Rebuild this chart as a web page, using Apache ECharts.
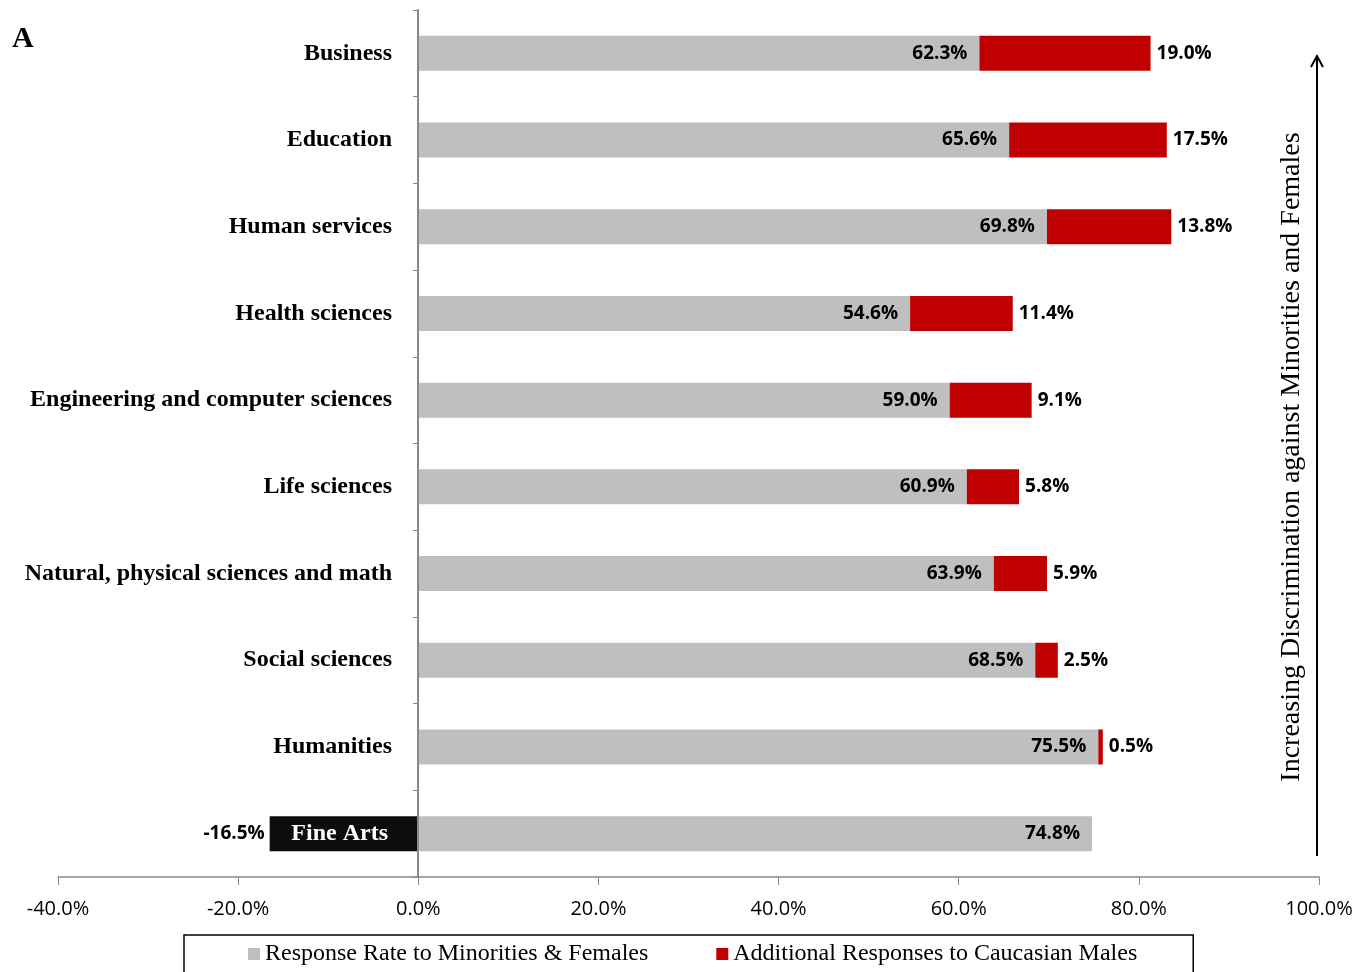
<!DOCTYPE html>
<html>
<head>
    <meta charset="utf-8">
    <script src="https://cdn.jsdelivr.net/npm/echarts@6/dist/echarts.min.js"></script>
</head>
<body style="margin:0">
<div id="main" style="width: 1358px;height:972px;"></div>
<script type="text/javascript">
    // data
    var fields = ['Business', 'Education', 'Human services', 'Health sciences',
        'Engineering and computer sciences', 'Life sciences',
        'Natural, physical sciences and math', 'Social sciences', 'Humanities', 'Fine Arts'];
    var minorityRate = [62.3, 65.6, 69.8, 54.6, 59.0, 60.9, 63.9, 68.5, 75.5, 74.8];
    var extraMales = [19.0, 17.5, 13.8, 11.4, 9.1, 5.8, 5.9, 2.5, 0.5, '-'];
    var negativeGap = ['-', '-', '-', '-', '-', '-', '-', '-', '-', -16.5];

    var serif = 'Liberation Serif';
    var sans = 'Open Sans';

    function pct(p) {
        return p.value.toFixed(1) + '%';
    }

    var myChart = echarts.init(document.getElementById('main'));

    var option = {
        animation: false,
        grid: {left: 58, right: 39, top: 10, bottom: 95, containLabel: false, outerBoundsMode: 'none'},
        xAxis: {
            type: 'value',
            min: -40,
            max: 100,
            interval: 20,
            axisLine: {show: true, lineStyle: {color: '#888', width: 1.5}},
            axisTick: {show: true, length: 8, lineStyle: {color: '#888'}},
            splitLine: {show: false},
            axisLabel: {
                margin: 22,
                fontFamily: sans,
                fontSize: 20,
                color: '#000',
                formatter: function (v) { return v.toFixed(1) + '%'; }
            }
        },
        yAxis: {
            type: 'category',
            inverse: true,
            data: fields,
            position: 'left',
            offset: -360, // put the category axis on the 0% line
            z: 10,
            axisLine: {show: true, onZero: false, lineStyle: {color: '#888', width: 2}},
            axisTick: {show: true, length: 5, lineStyle: {color: '#888'}},
            axisLabel: {
                margin: 26,
                fontFamily: serif,
                fontWeight: 'bold',
                fontSize: 24,
                color: '#000',
                formatter: function (v) {
                    return v === 'Fine Arts' ? '{w|' + v + '}' : v;
                },
                rich: {
                    w: {color: '#fff', fontFamily: serif, fontWeight: 'bold', fontSize: 24, padding: [0, 4, 0, 0]}
                }
            }
        },
        legend: {
            data: ['Response Rate to Minorities & Females', 'Additional Responses to Caucasian Males'],
            top: 935,
            left: 184,
            icon: 'rect',
            itemWidth: 12,
            itemHeight: 12,
            itemGap: 68,
            borderColor: '#000',
            borderWidth: 1.5,
            padding: [7, 56, 14, 64],
            textStyle: {fontFamily: serif, fontSize: 24, color: '#000'}
        },
        series: [
            {
                name: 'Response Rate to Minorities & Females',
                type: 'bar',
                stack: 'a',
                barWidth: 35,
                itemStyle: {color: '#bfbfbf'},
                label: {
                    show: true,
                    position: 'insideRight',
                    distance: 12,
                    fontFamily: sans,
                    fontWeight: 'bold',
                    fontSize: 19,
                    color: '#000',
                    formatter: pct
                },
                data: minorityRate
            },
            {
                name: 'Additional Responses to Caucasian Males',
                type: 'bar',
                stack: 'a',
                barWidth: 35,
                itemStyle: {color: '#c00000'},
                label: {
                    show: true,
                    position: 'right',
                    distance: 6,
                    fontFamily: sans,
                    fontWeight: 'bold',
                    fontSize: 19,
                    color: '#000',
                    formatter: pct
                },
                data: extraMales
            },
            {
                name: 'Gap',
                type: 'bar',
                stack: 'a',
                barWidth: 35,
                itemStyle: {color: '#0d0d0d'},
                label: {
                    show: true,
                    position: 'left',
                    distance: 5,
                    fontFamily: sans,
                    fontWeight: 'bold',
                    fontSize: 19,
                    color: '#000',
                    formatter: pct
                },
                data: negativeGap
            }
        ],
        graphic: [
            {
                type: 'text',
                left: 12,
                top: 24,
                style: {text: 'A', font: 'bold 30px "Liberation Serif"', fill: '#000'}
            },
            {
                type: 'text',
                x: 1292,
                y: 457,
                rotation: Math.PI / 2,
                style: {
                    text: 'Increasing Discrimination against Minorities and Females',
                    font: '28px "Liberation Serif"',
                    fill: '#000',
                    align: 'center',
                    verticalAlign: 'middle'
                }
            },
            {
                type: 'line',
                shape: {x1: 1317, y1: 856, x2: 1317, y2: 56},
                style: {stroke: '#000', lineWidth: 2}
            },
            {
                type: 'polyline',
                shape: {points: [[1311, 67], [1317, 56], [1323, 67]]},
                style: {stroke: '#000', lineWidth: 2, fill: null}
            }
        ]
    };

    myChart.setOption(option);
</script>
</body>
</html>
